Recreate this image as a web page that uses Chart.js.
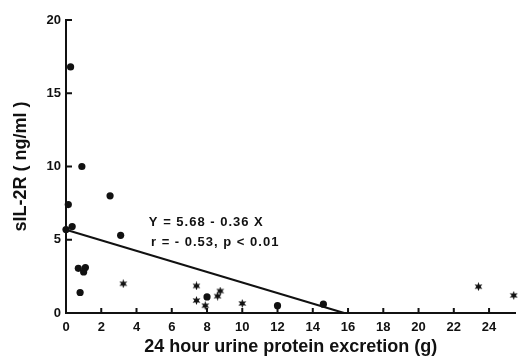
<!DOCTYPE html>
<html>
<head>
<meta charset="utf-8">
<script src="https://cdn.jsdelivr.net/npm/chart.js@4.4.1/dist/chart.umd.min.js"></script>
<style>
  html, body { margin: 0; padding: 0; background: #fff; }
  #wrap { width: 521px; height: 359px; }
</style>
</head>
<body>
<div id="wrap"><canvas id="chart" width="521" height="359"></canvas></div>
<script>
// values
const circleX = [0.26, 0.9, 2.5, 0.13, 0.35, 0.0, 3.1, 0.7, 1.1, 1.0, 0.8, 8.0, 12.0, 14.6];
const circleY = [16.8, 10.0, 8.0, 7.4, 5.9, 5.7, 5.3, 3.05, 3.1, 2.8, 1.4, 1.1, 0.5, 0.6];
const starX = [3.25, 7.4, 7.4, 7.9, 8.6, 8.75, 10.0, 23.4, 25.4];
const starY = [2.0, 1.85, 0.85, 0.5, 1.15, 1.5, 0.65, 1.8, 1.2];
const fitX = [0, 15.78];
const fitY = [5.68, 0];
const xTicks = [0, 2, 4, 6, 8, 10, 12, 14, 16, 18, 20, 22, 24];
const yTicks = [0, 5, 10, 15, 20];
const equationLines = ["Y = 5.68 - 0.36 X", "r = - 0.53, p < 0.01"];
const xTitle = "24 hour urine protein excretion (g)";
const yTitle = "sIL-2R ( ng/ml )";

const ink = "#111";
const fontFamily = "'Liberation Sans', Arial, Helvetica, sans-serif";

function toPoints(xs, ys) {
  return xs.map((x, i) => ({ x: x, y: ys[i] }));
}

// small filled six-point star used as the second marker
function makeStar(size) {
  const c = document.createElement("canvas");
  c.width = size;
  c.height = size;
  const g = c.getContext("2d");
  const cx = size / 2, cy = size / 2;
  const outer = size / 2, inner = size / 4.2;
  g.fillStyle = ink;
  g.beginPath();
  for (let i = 0; i < 12; i++) {
    const r = i % 2 === 0 ? outer : inner;
    const a = Math.PI / 6 * i - Math.PI / 2;
    const px = cx + r * Math.cos(a), py = cy + r * Math.sin(a);
    if (i === 0) g.moveTo(px, py); else g.lineTo(px, py);
  }
  g.closePath();
  g.fill();
  return c;
}

const insideTicks = {
  id: "insideTicks",
  afterDraw(chart) {
    const ctx = chart.ctx;
    const xs = chart.scales.x, ys = chart.scales.y;
    ctx.save();
    ctx.strokeStyle = ink;
    ctx.lineWidth = 2;
    ctx.beginPath();
    xTicks.forEach(v => {
      const px = xs.getPixelForValue(v);
      ctx.moveTo(px, ys.bottom);
      ctx.lineTo(px, ys.bottom - 5);
    });
    yTicks.forEach(v => {
      const py = ys.getPixelForValue(v);
      ctx.moveTo(xs.left, py);
      ctx.lineTo(xs.left + 6, py);
    });
    ctx.stroke();

    // regression equation
    ctx.fillStyle = ink;
    ctx.font = "bold 13px " + fontFamily;
    ctx.letterSpacing = "1px";
    ctx.textBaseline = "middle";
    ctx.textAlign = "left";
    ctx.fillText(equationLines[0], xs.getPixelForValue(4.7), ys.getPixelForValue(6.15));
    ctx.fillText(equationLines[1], xs.getPixelForValue(4.82), ys.getPixelForValue(4.8));
    ctx.restore();
  }
};

const ctx = document.getElementById("chart").getContext("2d");

new Chart(ctx, {
  type: "scatter",
  data: {
    datasets: [
      {
        label: "fit",
        type: "line",
        data: toPoints(fitX, fitY),
        borderColor: ink,
        borderWidth: 2,
        pointRadius: 0,
        fill: false,
        clip: false
      },
      {
        label: "circles",
        data: toPoints(circleX, circleY),
        pointStyle: "circle",
        pointRadius: 3.6,
        backgroundColor: ink,
        borderColor: ink,
        borderWidth: 0,
        clip: false
      },
      {
        label: "stars",
        data: toPoints(starX, starY),
        pointStyle: makeStar(9),
        pointRadius: 4.5,
        backgroundColor: ink,
        borderColor: ink,
        clip: false
      }
    ]
  },
  options: {
    responsive: false,
    animation: false,
    layout: { padding: { top: 20, right: 0, bottom: 0, left: 0 } },
    plugins: {
      legend: { display: false },
      tooltip: { enabled: false }
    },
    scales: {
      x: {
        type: "linear",
        min: 0,
        max: 25.5,
        afterBuildTicks: s => { s.ticks = xTicks.map(v => ({ value: v })); },
        afterFit: s => { s.height = 46; },
        grid: { display: false, drawTicks: false },
        border: { display: true, color: ink, width: 2 },
        ticks: {
          color: ink,
          padding: 7,
          maxRotation: 0,
          font: { family: fontFamily, size: 13, weight: "bold" }
        },
        title: {
          display: true,
          text: xTitle,
          color: ink,
          padding: { top: 0, bottom: 1 },
          font: { family: fontFamily, size: 18, weight: "bold" }
        }
      },
      y: {
        type: "linear",
        min: 0,
        max: 20,
        afterBuildTicks: s => { s.ticks = yTicks.map(v => ({ value: v })); },
        afterFit: s => { s.width = 66; },
        grid: { display: false, drawTicks: false },
        border: { display: true, color: ink, width: 2 },
        ticks: {
          color: ink,
          padding: 5,
          font: { family: fontFamily, size: 13, weight: "bold" }
        },
        title: {
          display: true,
          text: yTitle,
          color: ink,
          padding: { top: 10, bottom: 0 },
          font: { family: fontFamily, size: 18, weight: "bold" }
        }
      }
    }
  },
  plugins: [insideTicks]
});
</script>
</body>
</html>
